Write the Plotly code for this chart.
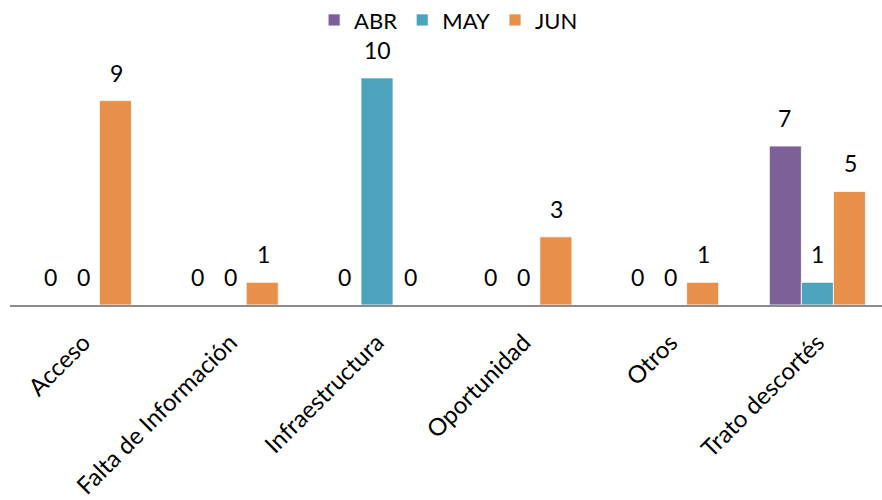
import plotly.graph_objects as go

categories = ["Acceso", "Falta de Información", "Infraestructura", "Oportunidad", "Otros", "Trato descortés"]
series_names = ["ABR", "MAY", "JUN"]
abr = [0, 0, 0, 0, 0, 7]
may = [0, 0, 10, 0, 0, 1]
jun = [9, 1, 0, 3, 1, 5]
colors = ["#7d6099", "#4ba4bc", "#e8904a"]

values = [abr, may, jun]
FONT = "Lato, Open Sans, sans-serif"

fig = go.Figure()
for name, vals, col in zip(series_names, values, colors):
    fig.add_trace(go.Bar(
        name=name, x=categories, y=vals, marker_color=col,
        marker_line_color="rgba(255,255,255,0.8)", marker_line_width=1,
    ))

# value labels above each bar
xshifts = [-33, 0, 33]
annotations = []
for vals, xs in zip(values, xshifts):
    for c, v in zip(categories, vals):
        annotations.append(dict(
            x=c, y=v, xref="x", yref="y", text=str(v), showarrow=False,
            xshift=xs, yshift=12, yanchor="bottom",
            font=dict(family=FONT, size=23, color="#000"),
        ))

fig.update_layout(
    width=882, height=500,
    margin=dict(l=10, r=0, t=0, b=195, autoexpand=False),
    paper_bgcolor="white", plot_bgcolor="white",
    barmode="group", bargap=0.345, bargroupgap=0,
    font=dict(family=FONT, size=20, color="#000"),
    legend=dict(orientation="h", x=0.503, xanchor="center", y=0.934, yanchor="middle",
                font=dict(size=22), itemwidth=30,
                traceorder="normal", bgcolor="rgba(0,0,0,0)"),
    annotations=annotations,
    showlegend=True,
)
fig.update_xaxes(
    range=[-0.5, 5.44], showline=True, linecolor="#8c8c8c", linewidth=2,
    tickangle=-45, ticks="", showgrid=False, tickfont=dict(size=24, family=FONT),
    ticklabelstandoff=12, automargin=False,
)
fig.update_yaxes(range=[0, 13.43], visible=False)

fig.write_html("out.html")
